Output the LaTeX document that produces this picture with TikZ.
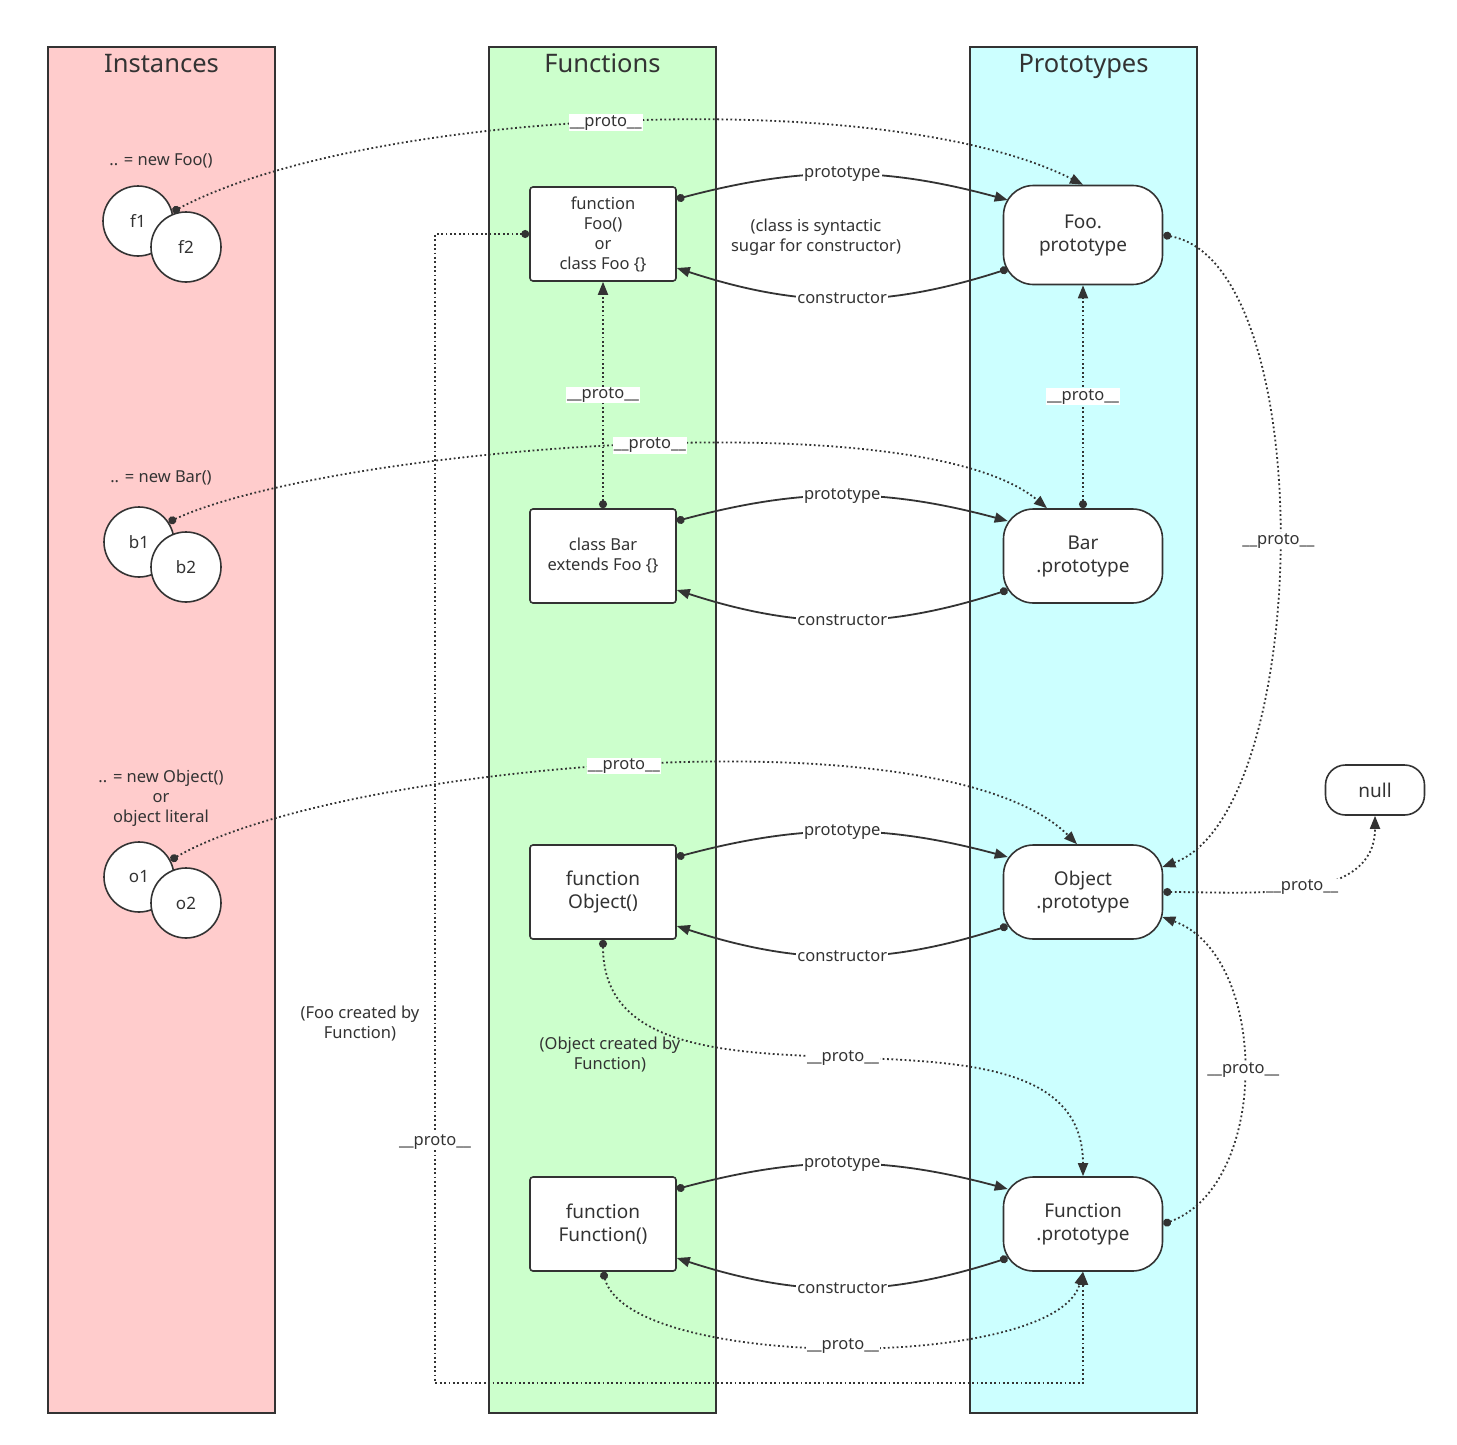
\documentclass[tikz,border=0pt]{standalone}
\usepackage{fontspec}
\setmainfont{Noto Sans}
\usepackage{tikz}
\usetikzlibrary{arrows.meta,positioning,calc}
\definecolor{instFill}{HTML}{FFCCCC}
\definecolor{funcFill}{HTML}{CCFFCC}
\definecolor{protoFill}{HTML}{CCFFFF}
\definecolor{inkDark}{HTML}{333333}
\tikzset{
    lane/.style={
        rectangle,
        draw=inkDark,
        line width=1.5pt,
        fill=#1,
        minimum width=227pt,
        minimum height=1366pt,
        inner sep=0pt
    },
    laneTitle/.style={font=\fontsize{25.5}{30}\selectfont, text=inkDark, anchor=base},
    inst/.style={
        circle,
        draw=inkDark,
        line width=1.6pt,
        fill=white,
        minimum size=70pt,
        inner sep=0pt,
        text=inkDark,
        font=\fontsize{17}{20}\selectfont
    },
    fnBox/.style={
        rectangle,
        draw=inkDark,
        line width=1.6pt,
        fill=white,
        rounded corners=3pt,
        minimum width=146pt,
        minimum height=94pt,
        align=center,
        text=inkDark,
        font=\fontsize{19}{23}\selectfont
    },
    fnSmall/.style={fnBox, font=\fontsize{16.5}{20}\selectfont},
    protoBox/.style={
        rectangle,
        draw=inkDark,
        line width=1.6pt,
        fill=white,
        rounded corners=30pt,
        minimum width=159pt,
        minimum height=94pt,
        align=center,
        text=inkDark,
        font=\fontsize{19}{23}\selectfont
    },
    note/.style={font=\fontsize{16.5}{20}\selectfont, align=center, text=inkDark},
    lbl/.style={fill=white, inner sep=1pt, text=inkDark, font=\fontsize{16.5}{18}\selectfont},
    % Arrows
    link/.style={{Circle[length=8pt]}-{Triangle[length=13pt,width=10pt]}, line width=1.8pt, draw=inkDark},
    protoLink/.style={link, dash pattern=on 1.8pt off 2.6pt}
}

\begin{document}
\begin{tikzpicture}[x=1pt, y=1pt]
\fill[white] (0,0) rectangle (1457,-1445);
\useasboundingbox (0,0) rectangle (1457,-1445);

% Lanes
\foreach \n/\x/\c/\t in {laneInst/161.5/instFill/Instances, laneFunc/602.5/funcFill/Functions, laneProto/1083.5/protoFill/Prototypes} {
    \node[lane=\c] (\n) at (\x,-730) {};
    \node[laneTitle] (\n T) at (\x,-73) {\t};
}

% Instances
\node[note] (newFoo) at (161,-161) {.. = new Foo()};
\node[inst] (f1) at (138,-221) {f1};
\node[inst] (f2) at (186,-247) {f2};
\node[note] (newBar) at (161,-478) {.. = new Bar()};
\node[inst] (b1) at (139,-542) {b1};
\node[inst] (b2) at (186,-567) {b2};
\node[note] (newObj) at (161,-798) {.. = new Object()\\or\\object literal};
\node[inst] (o1) at (139,-877) {o1};
\node[inst] (o2) at (186,-903) {o2};

% Functions
\node[fnSmall] (fnFoo) at (603,-234) {function\\Foo()\\or\\class Foo \{\}};
\node[fnSmall] (fnBar) at (603,-556) {class Bar\\extends Foo \{\}};
\node[fnBox] (fnObj) at (603,-892) {function\\Object()};
\node[fnBox] (fnFun) at (603,-1224) {function\\Function()};

% Prototypes
\node[protoBox, minimum height=99pt] (prFoo) at (1083,-235) {Foo.\\prototype};
\node[protoBox] (prBar) at (1083,-556) {Bar\\.prototype};
\node[protoBox] (prObj) at (1083,-892) {Object\\.prototype};
\node[protoBox] (prFun) at (1083,-1224) {Function\\.prototype};
\node[protoBox, minimum width=99pt, minimum height=50pt, rounded corners=20pt] (null) at (1375,-790) {null};

% Notes
\node[note] (sugarNote) at (816,-237) {(class is syntactic\\sugar for constructor)};
\node[note] (fooNote) at (360,-1024) {(Foo created by\\Function)};
\node[note] (objNote) at (610,-1055) {(Object created by\\Function)};

% prototype / constructor pairs
\foreach \fn/\pr in {fnFoo/prFoo, fnBar/prBar, fnObj/prObj, fnFun/prFun} {
    \draw[link] ($(\fn.east)+(0,35)$) to[bend left=15] node[lbl] {prototype} ($(\pr.west)+(5,35)$);
    \draw[link] ($(\pr.west)+(5,-34)$) to[bend left=18] node[lbl] {constructor} ($(\fn.east)+(0,-34)$);
}

% __proto__ links
\draw[protoLink] (f1.15) to[out=28, in=153, looseness=0.62] node[lbl, pos=0.48] {\_\_proto\_\_} (prFoo.north);
\draw[protoLink] (b1.34) to[out=25, in=140, looseness=0.5] node[lbl, pos=0.53] {\_\_proto\_\_} ($(prBar.north)+(-36,0)$);
\draw[protoLink] (o1.28) to[out=30, in=135, looseness=0.54] node[lbl, pos=0.49] {\_\_proto\_\_} ($(prObj.north)+(-6,0)$);
\draw[protoLink] (fnBar.north) -- node[lbl] {\_\_proto\_\_} (fnFoo.south);
\draw[protoLink] (prBar.north) -- node[lbl] {\_\_proto\_\_} (prFoo.south);
\draw[protoLink] (prFoo.east) to[out=-10, in=20, looseness=0.65] node[lbl] {\_\_proto\_\_} ($(prObj.east)+(-1,25)$);
\draw[protoLink] (prObj.east) to[out=0, in=-90] node[lbl] {\_\_proto\_\_} (null.south);
\draw[protoLink] (prFun.east) to[out=20, in=-20, looseness=0.95] node[lbl] {\_\_proto\_\_} ($(prObj.east)+(-1,-25)$);
\draw[protoLink] (fnObj.south) to[out=-90, in=90] node[lbl] {\_\_proto\_\_} (prFun.north);
\draw[protoLink] (fnFun.south) to[out=-75, in=-105, looseness=0.55] node[lbl] {\_\_proto\_\_} (prFun.south);
\coordinate (lowBend) at (435,-1383);
\draw[protoLink] (fnFoo.west) -| node[lbl, pos=0.895] {\_\_proto\_\_} (lowBend) -| (prFun.south);
\end{tikzpicture}
\end{document}
